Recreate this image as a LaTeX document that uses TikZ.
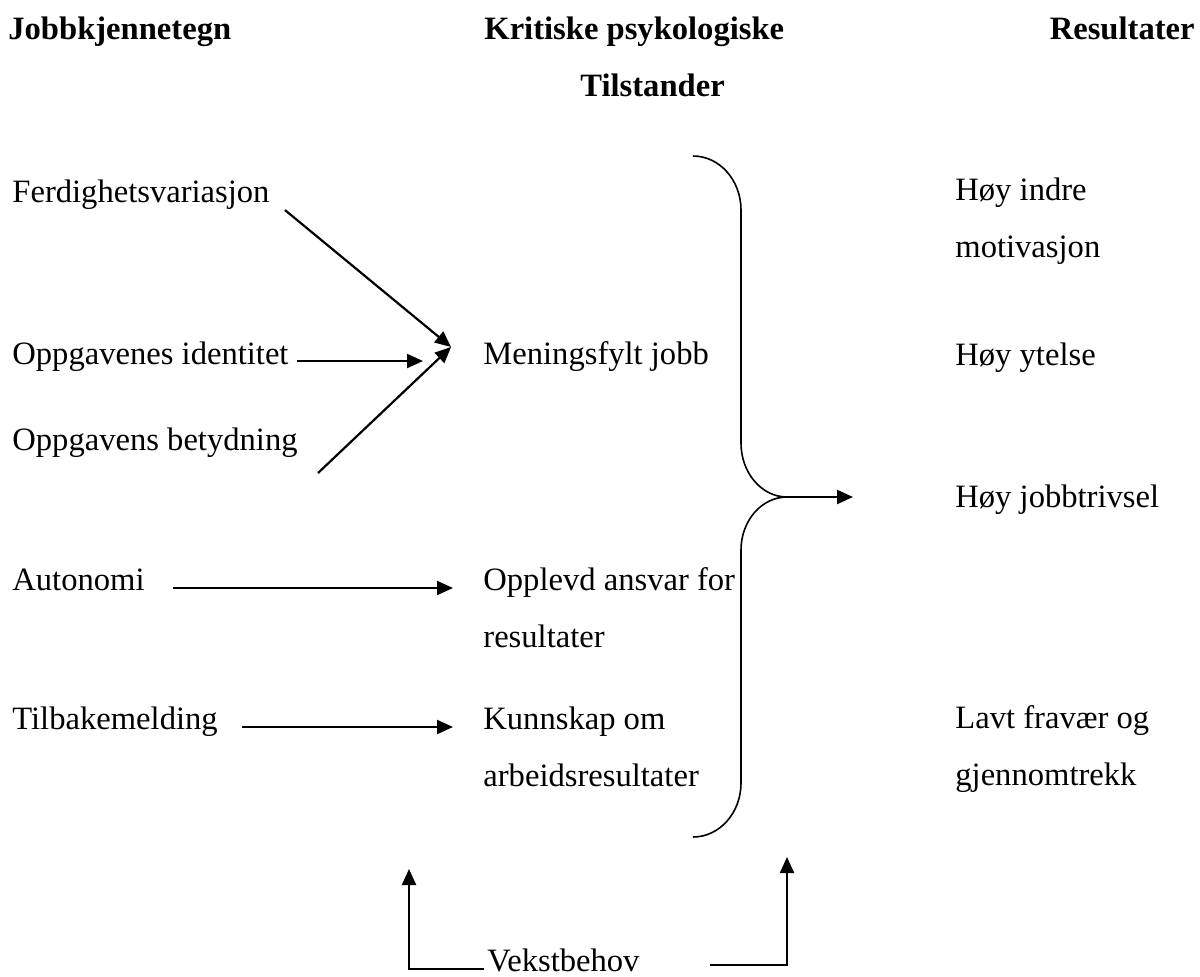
\documentclass[tikz,border=0pt]{standalone}
\usepackage{fontspec}
\setmainfont{Liberation Serif}
\usetikzlibrary{arrows.meta}

\begin{document}
\begin{tikzpicture}[x=0.5pt,y=0.5pt,
  txt/.style={anchor=base west,inner sep=0pt,align=left,font=\fontsize{16.3}{28.5}\selectfont},
  heading/.style={txt,font=\fontsize{16.3}{28.5}\selectfont\bfseries},
  arr/.style={line width=1.1pt,-{Triangle[length=8pt,width=7pt]}},
  curly/.style={line width=0.8pt}]
  \useasboundingbox (0,0) rectangle (1200,-976);

  % column headings
  \node[heading] (h1) at (8,-39) {Jobbkjennetegn};
  \node[heading] (h2) at (484,-39) {Kritiske psykologiske};
  \node[heading] (h3) at (580,-96) {Tilstander};
  \node[heading,anchor=base east] (h4) at (1195,-39) {Resultater};

  % job characteristics
  \node[txt] (ferd) at (12,-202) {Ferdighetsvariasjon};
  \node[txt] (ident) at (12,-364) {Oppgavenes identitet};
  \node[txt] (betyd) at (12,-450) {Oppgavens betydning};
  \node[txt] (auto) at (12,-590) {Autonomi};
  \node[txt] (tilb) at (12,-729) {Tilbakemelding};

  % psychological states (base = last line)
  \node[txt] (mening) at (483,-364) {Meningsfylt jobb};
  \node[txt] (ansvar) at (483,-647) {Opplevd ansvar for\\resultater};
  \node[txt] (kunn) at (483,-786) {Kunnskap om\\arbeidsresultater};

  % outcomes
  \node[txt] (motiv) at (955,-257) {Høy indre\\motivasjon};
  \node[txt] (ytelse) at (955,-365) {Høy ytelse};
  \node[txt] (trivsel) at (955,-507) {Høy jobbtrivsel};
  \node[txt] (fravaer) at (955,-785) {Lavt fravær og\\gjennomtrekk};

  \node[txt] (vekst) at (487,-971) {Vekstbehov};

  % arrows into the states
  \coordinate (meet) at ([shift={(-32,17)}]mening.base west);
  \draw[arr] ([shift={(15,-8)}]ferd.base east) -- (meet);
  \draw[arr] ([shift={(8,3)}]ident.base east) -- ([shift={(-60,3)}]mening.base west);
  \draw[arr] ([shift={(20,-23)}]betyd.base east) -- (meet);
  \draw[arr] ([shift={(28,2)}]auto.base east) -- ([shift={(-30,59)}]ansvar.base west);
  \draw[arr] ([shift={(24,2)}]tilb.base east) -- ([shift={(-30,59)}]kunn.base west);

  % brace and outcome arrow
  \draw[curly] (693,-156) arc[start angle=90,end angle=0,x radius=48,y radius=54]
    -- (741,-443) arc[start angle=180,end angle=270,x radius=46,y radius=54]
    arc[start angle=90,end angle=180,x radius=46,y radius=53]
    -- (741,-783) arc[start angle=0,end angle=-90,x radius=48,y radius=54];
  \coordinate (tip) at (787,-497);
  \coordinate (out) at (853,-497);
  \draw[arr] (tip) -- (out);

  % growth need
  \coordinate (upleft) at (409,-869);
  \coordinate (upright) at (787,-857);
  \draw[arr] ([shift={(-3,2)}]vekst.base west) -| (upleft);
  \draw[arr] ([shift={(70,6)}]vekst.base east) -| (upright);
\end{tikzpicture}
\end{document}
